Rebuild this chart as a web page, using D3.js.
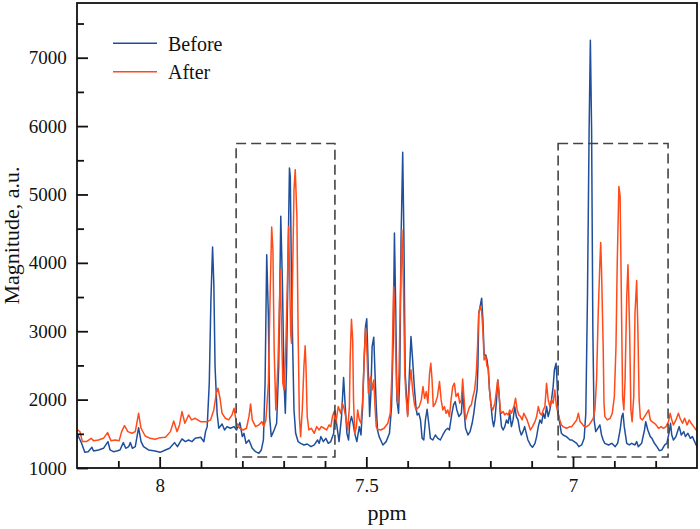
<!DOCTYPE html>
<html><head><meta charset="utf-8">
<script src="https://cdn.jsdelivr.net/npm/d3@7"></script>
<style>
body{margin:0;background:#fff}
svg{display:block}
</style>
</head><body>
<svg id="chart" width="700" height="529"></svg>
<script>
// ---- data: [ppm, magnitude (a.u.)] ----
const seriesNames = ["Before", "After"];
const seriesColors = ["#1f4f9a", "#ff4a1a"];

const before = [
[8.200,1420],[8.198,1483],[8.189,1361],[8.181,1229],[8.173,1239],[8.164,1302],[8.160,1249],[8.148,1264],[8.136,1288],[8.125,1386],
[8.120,1264],[8.112,1239],[8.104,1249],[8.096,1264],[8.088,1371],[8.082,1288],[8.075,1312],[8.071,1371],[8.066,1288],[8.059,1312],
[8.051,1590],[8.045,1386],[8.039,1312],[8.027,1264],[8.011,1249],[7.999,1229],[7.986,1264],[7.976,1288],[7.964,1371],[7.957,1312],
[7.946,1425],[7.938,1386],[7.930,1410],[7.922,1386],[7.914,1435],[7.901,1449],
[7.893,1385],[7.889,1532],[7.885,1605],[7.880,2240],[7.876,3460],[7.872,4231],[7.869,3703],[7.866,2483],[7.861,1800],[7.857,1581],
[7.849,1644],[7.843,1556],[7.837,1605],[7.829,1581],[7.820,1605],[7.814,1556],[7.806,1664],[7.800,1459],[7.796,1507],[7.791,1361],
[7.784,1410],[7.776,1288],[7.768,1239],[7.760,1215],[7.754,1264],[7.749,1410],[7.745,2240],[7.741,4118],[7.737,3215],[7.734,1751],
[7.730,1459],[7.723,1556],[7.717,1654],[7.712,2483],[7.707,4680],[7.703,3703],[7.699,2240],[7.696,1800],[7.693,2483],[7.689,4191],
[7.686,5387],[7.684,5265],[7.681,3703],[7.678,2728],[7.675,1849],[7.671,1507],[7.665,1385],[7.659,1361],[7.651,1337],[7.643,1351],
[7.634,1312],[7.626,1337],[7.618,1410],[7.614,1361],[7.610,1459],[7.604,1385],[7.598,1434],[7.592,1361],
[7.586,1386],[7.579,1507],[7.576,1839],[7.571,1605],[7.566,1386],[7.560,1752],[7.555,2323],[7.551,1898],[7.547,1507],[7.543,1410],
[7.540,1654],[7.536,1752],[7.532,1654],[7.528,1507],[7.523,1386],[7.517,1605],[7.513,1483],[7.509,1898],[7.505,2630],[7.502,3069],
[7.499,3181],[7.495,2386],[7.492,1752],[7.489,2093],[7.486,2776],[7.482,2913],[7.479,2386],[7.476,1898],[7.473,1556],[7.469,1459],
[7.460,1337],[7.452,1386],[7.444,1507],[7.439,1898],[7.435,2874],[7.432,4436],[7.429,3362],[7.426,1996],[7.422,1800],[7.419,2386],
[7.416,4338],[7.412,5617],[7.409,4338],[7.406,2386],
[7.400,1776],[7.392,2923],[7.388,2581],[7.384,2191],[7.380,1898],[7.377,1776],[7.373,1800],[7.369,1703],[7.365,1434],[7.361,1410],
[7.357,1703],[7.353,1859],[7.349,1654],[7.345,1434],[7.339,1410],[7.333,1483],[7.327,1434],[7.321,1410],[7.315,1483],[7.308,1556],
[7.303,1581],[7.299,1556],[7.293,1800],[7.289,1922],[7.285,1971],[7.281,1849],[7.276,1752],[7.270,1800],[7.267,2120],[7.263,1800],
[7.260,1581],[7.254,1483],[7.249,1532],[7.244,1654],[7.240,1800],[7.236,1996],[7.232,2142],[7.230,2483],[7.228,3264],[7.224,3386],
[7.221,3484],[7.218,3167],[7.215,2654],[7.211,2654],[7.208,2581],[7.205,2435],[7.202,2142],[7.198,1898],[7.195,1703],[7.192,1605],
[7.189,1703],[7.185,1996],[7.182,2288],[7.179,2093],[7.176,1800],[7.173,1605],[7.169,1556],[7.165,1605],[7.161,1703],[7.157,1654],
[7.153,1800],[7.149,1605],[7.145,1703],[7.141,1898],[7.137,1752],[7.133,1703],[7.129,1556],[7.125,1483],[7.121,1532],[7.117,1605],
[7.113,1507],[7.109,1410],[7.103,1337],[7.098,1303],[7.092,1361],[7.088,1459],[7.084,1605],[7.080,1703],[7.076,1654],[7.072,1800],
[7.068,1727],[7.064,1898],[7.060,1752],[7.056,1849],[7.052,1996],[7.048,2191],[7.045,2435],[7.041,2532],[7.038,2191],[7.036,1800],
[7.032,1654],[7.028,1507],[7.024,1483],[7.016,1459],[7.007,1410],
[7.003,1410],[6.997,1386],[6.991,1361],[6.986,1312],[6.979,1337],[6.973,1434],[6.969,1800],[6.965,3508],[6.961,5948],[6.958,7256],
[6.955,5948],[6.952,3020],[6.949,1703],[6.945,1532],[6.940,1581],[6.935,1630],[6.931,1483],[6.927,1410],[6.923,1361],[6.914,1337],
[6.906,1361],[6.898,1312],[6.892,1361],[6.886,1556],[6.882,1752],[6.879,1800],[6.876,1605],[6.870,1361],[6.864,1337],[6.858,1361],
[6.850,1337],[6.846,1386],[6.842,1312],[6.834,1361],[6.827,1556],[6.824,1678],[6.819,1556],[6.813,1459],[6.809,1434],[6.803,1361],
[6.797,1312],[6.791,1254],[6.785,1264],[6.778,1337],[6.773,1361],[6.767,1532],[6.764,1654],[6.761,1483],[6.757,1410],[6.751,1459],
[6.746,1556],[6.743,1605],[6.738,1483],[6.732,1532],[6.728,1459],[6.722,1508],[6.716,1434],[6.711,1459],[6.704,1361],[6.698,1288]
];

const after = [
[8.200,1540],[8.198,1556],[8.193,1532],[8.187,1386],[8.177,1386],[8.166,1434],[8.160,1400],[8.148,1410],[8.136,1434],[8.126,1517],
[8.118,1400],[8.108,1410],[8.098,1400],[8.092,1532],[8.085,1620],[8.077,1532],[8.067,1508],[8.059,1532],[8.051,1800],[8.045,1581],
[8.035,1468],[8.023,1434],[8.011,1420],[7.999,1444],[7.986,1449],[7.974,1532],[7.966,1688],[7.958,1532],[7.952,1630],[7.946,1825],
[7.939,1654],[7.930,1776],[7.923,1703],[7.914,1727],[7.901,1678],
[7.893,1678],[7.885,1678],[7.877,1703],[7.869,1849],[7.863,2093],[7.859,2166],[7.854,2020],[7.849,1800],[7.841,1727],[7.833,1703],
[7.825,1776],[7.820,1873],[7.814,1654],[7.806,1581],[7.798,1556],[7.790,1581],[7.784,1751],[7.780,1937],[7.776,1703],[7.768,1605],
[7.760,1630],[7.753,1678],[7.748,1605],[7.743,1703],[7.737,2240],[7.733,3460],[7.729,4523],[7.726,4191],[7.723,2728],[7.719,1849],
[7.714,2483],[7.710,3411],[7.708,3899],[7.706,3215],[7.702,2240],[7.699,2142],[7.695,2728],[7.691,3703],[7.688,4533],[7.685,3606],
[7.683,2972],[7.681,2825],[7.678,3948],[7.675,5070],[7.672,5363],[7.668,4680],[7.665,2972],[7.662,1751],[7.659,1459],[7.655,1849],
[7.651,2483],[7.648,2786],[7.646,2483],[7.643,1751],[7.639,1556],[7.633,1581],[7.626,1507],[7.620,1605],[7.614,1556],[7.609,1605],
[7.602,1581],[7.596,1556],[7.590,1630],
[7.586,1605],[7.582,1752],[7.578,1825],[7.574,1654],[7.568,1898],[7.562,1800],[7.558,1947],[7.554,1874],[7.550,1752],[7.545,1556],
[7.541,1898],[7.539,2630],[7.536,3176],[7.533,2874],[7.531,1996],[7.528,1507],[7.524,1605],[7.521,1849],[7.517,1703],[7.513,1654],
[7.509,1996],[7.505,2630],[7.502,3045],[7.499,2776],[7.495,2093],[7.492,2288],[7.489,2337],[7.486,2142],[7.482,2288],[7.479,1898],
[7.476,1605],[7.473,1566],[7.465,1556],[7.457,1581],[7.448,1654],[7.442,1800],[7.438,2386],[7.434,3655],[7.431,3264],[7.427,2191],
[7.424,1947],[7.421,2386],[7.418,3362],[7.414,4484],[7.410,3606],[7.407,2386],
[7.404,2044],[7.400,1752],[7.396,2191],[7.392,2435],[7.388,2142],[7.384,1947],[7.380,1849],[7.376,1874],[7.372,1898],[7.367,1996],
[7.363,2191],[7.359,2020],[7.355,2117],[7.351,1947],[7.347,2386],[7.344,2532],[7.341,2288],[7.338,1898],[7.333,1947],[7.328,2044],
[7.323,2264],[7.319,1996],[7.315,1849],[7.311,1898],[7.307,1800],[7.303,1849],[7.299,1752],[7.295,1996],[7.291,2191],[7.287,2240],
[7.283,2044],[7.278,2093],[7.274,1947],[7.270,1996],[7.267,2300],[7.264,2050],[7.260,1703],
[7.254,1825],[7.250,1898],[7.246,1922],[7.242,2044],[7.238,2142],[7.234,2386],[7.231,2776],[7.228,3264],[7.224,3362],[7.221,3289],
[7.218,3020],[7.215,2581],[7.211,2630],[7.208,2483],[7.205,2483],[7.202,2142],[7.198,1898],[7.194,1849],[7.189,1947],[7.185,2142],
[7.182,2288],[7.179,2093],[7.176,1849],[7.173,1800],[7.169,1825],[7.165,1776],[7.161,1800],[7.157,1776],[7.153,1849],[7.149,1800],
[7.143,1898],[7.139,2020],[7.135,1849],[7.131,1776],[7.127,1752],[7.123,1703],[7.119,1800],[7.115,1752],[7.111,1703],[7.107,1630],
[7.103,1556],[7.098,1605],[7.092,1678],[7.088,1752],[7.084,1898],[7.080,1800],[7.076,1776],[7.072,1849],[7.068,1898],[7.064,2240],
[7.060,1996],[7.056,1898],[7.052,1996],[7.048,1947],[7.044,2142],[7.040,1898],[7.036,1800],[7.032,1703],[7.028,1630],[7.024,1605],
[7.016,1581],[7.007,1605],
[7.003,1605],[6.997,1654],[6.991,1703],[6.987,1800],[6.983,1678],[6.979,1654],[6.973,1605],[6.967,1605],[6.961,1630],[6.956,1678],
[6.951,1727],[6.947,1849],[6.943,2288],[6.939,3264],[6.935,3996],[6.933,4299],[6.931,3898],[6.927,2776],[6.925,1947],[6.923,1752],
[6.917,1703],[6.910,1727],[6.905,1800],[6.900,2044],[6.896,2776],[6.893,3996],[6.889,5118],[6.886,4972],[6.882,3020],[6.880,2044],
[6.877,1849],[6.874,2288],[6.870,3508],[6.867,3972],[6.863,3020],[6.860,1849],[6.857,1678],[6.853,2044],[6.850,3264],[6.846,3743],
[6.843,3020],[6.840,1996],[6.837,1727],[6.832,1703],[6.827,1752],[6.822,1800],[6.817,1849],[6.813,1703],[6.809,1678],[6.803,1654],
[6.799,1630],[6.793,1581],[6.787,1605],[6.781,1581],[6.775,1605],[6.769,1678],[6.765,1800],[6.761,1703],[6.757,1630],[6.751,1703],
[6.745,1800],[6.741,1727],[6.735,1654],[6.730,1727],[6.724,1630],[6.719,1703],[6.714,1654],[6.708,1605],[6.702,1556],[6.698,1532]
];

// highlighted regions: [ppmFrom, ppmTo, magLow, magHigh]
const boxes = [[7.815, 7.576, 1160, 5745], [7.036, 6.770, 1160, 5745]];

const xDomain = [8.2, 6.7];
const yDomain = [1000, 7800];
const xMajorTicks = [8, 7.5, 7];
const xMinorTicks = [8.1, 7.9, 7.8, 7.7, 7.6, 7.4, 7.3, 7.2, 7.1, 6.9, 6.8];
const yMajorTicks = [1000, 2000, 3000, 4000, 5000, 6000, 7000];
const yMinorTicks = [1500, 2500, 3500, 4500, 5500, 6500, 7500];
const xTitle = "ppm";
const yTitle = "Magnitude, a.u.";

// ---- drawing ----
const FONT = '"Liberation Serif"';
const W = 700, H = 529;
const m = {l: 77, r: 3, t: 3, b: 61};
const svg = d3.select("#chart");
const x = d3.scaleLinear().domain(xDomain).range([m.l, W - m.r]);
const y = d3.scaleLinear().domain(yDomain).range([H - m.b, m.t]);

svg.append("defs").append("clipPath").attr("id", "clip")
  .append("rect").attr("x", m.l).attr("y", m.t)
  .attr("width", W - m.l - m.r).attr("height", H - m.t - m.b);

const line = d3.line().x(d => x(d[0])).y(d => y(d[1]));
const plot = svg.append("g").attr("clip-path", "url(#clip)");
[before, after].forEach((s, i) => {
  plot.append("path").datum(s).attr("d", line)
    .attr("fill", "none").attr("stroke", seriesColors[i])
    .attr("stroke-width", 1.5).attr("stroke-linejoin", "round");
});

// dashed boxes
svg.append("g").selectAll("rect").data(boxes).join("rect")
  .attr("x", d => x(d[0])).attr("y", d => y(d[3]))
  .attr("width", d => x(d[1]) - x(d[0])).attr("height", d => y(d[2]) - y(d[3]))
  .attr("fill", "none").attr("stroke", "#444").attr("stroke-width", 1.6)
  .attr("stroke-dasharray", "10,5");

// axes
function styleAxis(g) {
  g.attr("font-family", null);
  g.select(".domain").remove();
  g.selectAll(".tick line").attr("stroke", "#111").attr("stroke-width", 1.8);
  g.selectAll(".tick text").style("font-family", FONT).attr("font-size", 19).attr("fill", "#111");
}
svg.append("g").attr("transform", `translate(0,${H - m.b})`)
  .call(d3.axisBottom(x).tickValues(xMinorTicks).tickSize(-7).tickFormat(""))
  .call(styleAxis);
svg.append("g").attr("transform", `translate(0,${H - m.b})`)
  .call(d3.axisBottom(x).tickValues(xMajorTicks).tickSize(-11).tickPadding(10.5).tickFormat(d3.format("")))
  .call(styleAxis);
svg.append("g").attr("transform", `translate(${m.l},0)`)
  .call(d3.axisLeft(y).tickValues(yMinorTicks).tickSize(-7).tickFormat(""))
  .call(styleAxis);
svg.append("g").attr("transform", `translate(${m.l},0)`)
  .call(d3.axisLeft(y).tickValues(yMajorTicks).tickSize(-11).tickPadding(10.3).tickFormat(d3.format("d")))
  .call(styleAxis);

// frame
svg.append("rect").attr("x", m.l).attr("y", m.t)
  .attr("width", W - m.l - m.r).attr("height", H - m.t - m.b)
  .attr("fill", "none").attr("stroke", "#111").attr("stroke-width", 1.8);

// titles
svg.append("text").attr("x", (m.l + W - m.r) / 2).attr("y", 520).attr("fill", "#111")
  .attr("text-anchor", "middle").attr("font-size", 22).style("font-family", FONT).text(xTitle);
svg.append("text").attr("transform", `translate(18.5,${(m.t + H - m.b) / 2}) rotate(-90)`).attr("fill", "#111")
  .attr("text-anchor", "middle").attr("font-size", 22).style("font-family", FONT).text(yTitle);

// legend
const lg = svg.append("g");
seriesNames.forEach((n, i) => {
  const ly = 43.3 + i * 28.4;
  lg.append("line").attr("x1", 113).attr("x2", 157).attr("y1", ly).attr("y2", ly)
    .attr("stroke", seriesColors[i]).attr("stroke-width", 1.5);
  lg.append("text").attr("x", 168).attr("y", ly + 7.4).attr("font-size", 20).attr("fill", "#111")
    .style("font-family", FONT).text(n);
});
</script>
</body></html>
